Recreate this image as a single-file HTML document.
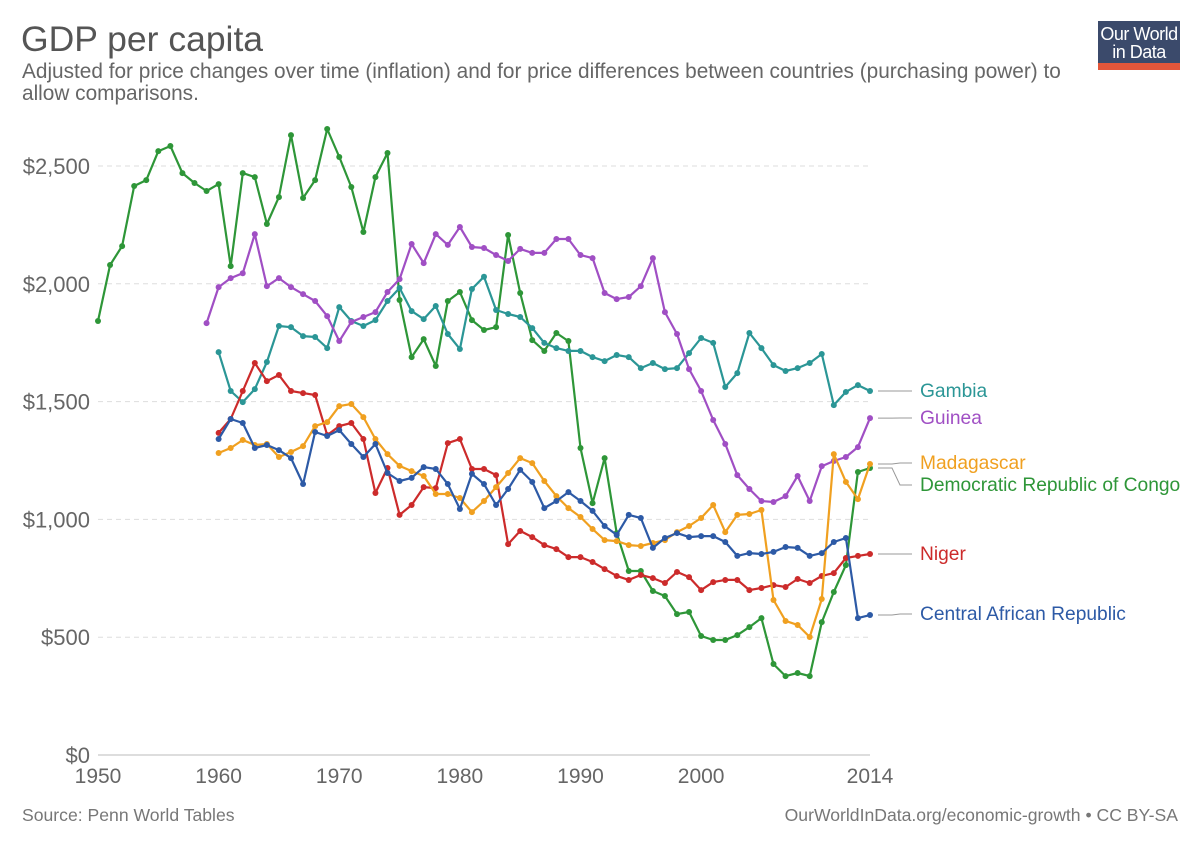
<!DOCTYPE html>
<html><head><meta charset="utf-8"><style>
body{margin:0;background:#fff;font-family:"Liberation Sans",sans-serif;}
#wrap{position:relative;width:1200px;height:847px;overflow:hidden;}
</style></head><body>
<div id="wrap">
<svg id="chart" width="1200" height="847">
<text x="21" y="51" font-size="35.5" fill="#555">GDP per capita</text>
<text x="22" y="78" font-size="20.8" fill="#666">Adjusted for price changes over time (inflation) and for price differences between countries (purchasing power) to</text>
<text x="22" y="100" font-size="20.8" fill="#666">allow comparisons.</text>
<g>
<rect x="1098" y="21" width="82" height="49" fill="#3b4a6b"/>
<rect x="1098" y="63" width="82" height="7" fill="#e3563a"/>
<text x="1139" y="40" font-size="18" fill="#fff" text-anchor="middle" letter-spacing="-0.5">Our World</text>
<text x="1139" y="58" font-size="18" fill="#fff" text-anchor="middle" letter-spacing="-0.5">in Data</text>
</g>
<g id="grid"></g><g id="series"></g><g id="labels"></g>
<text x="22" y="821" font-size="17.6" fill="#777">Source: Penn World Tables</text>
<text x="1178" y="821" font-size="17.6" fill="#777" text-anchor="end">OurWorldInData.org/economic-growth • CC BY-SA</text>
</svg>
</div>
<script>
const yTicks=[0,500,1000,1500,2000,2500];
const xTicks=[1950,1960,1970,1980,1990,2000,2014];
const drcStart=1950;
const drc=[1842,2080,2160,2415,2440,2563,2585,2470,2428,2394,2423,2075,2470,2453,2254,2368,2631,2364,2440,2657,2538,2411,2220,2453,2555,1931,1689,1765,1651,1927,1965,1846,1804,1816,2207,1961,1761,1715,1791,1757,1303,1069,1260,942,781,781,696,675,598,607,505,488,488,509,543,581,386,335,348,335,564,692,806,1201,1218];
const gambiaStart=1960;
const gambia=[1710,1545,1498,1553,1668,1821,1816,1778,1774,1727,1901,1842,1821,1846,1927,1982,1884,1850,1906,1787,1723,1978,2030,1889,1872,1859,1812,1749,1727,1715,1715,1689,1672,1698,1689,1642,1664,1638,1642,1706,1770,1749,1562,1621,1791,1727,1655,1630,1642,1664,1702,1485,1541,1570,1545];
const guineaStart=1959;
const guinea=[1833,1986,2024,2045,2211,1990,2024,1986,1956,1927,1863,1757,1838,1859,1880,1965,2020,2169,2088,2211,2165,2241,2156,2152,2122,2097,2148,2131,2131,2190,2190,2122,2109,1961,1935,1944,1990,2109,1880,1787,1638,1545,1422,1320,1188,1129,1078,1074,1099,1184,1078,1226,1248,1265,1307,1430];
const madaStart=1960;
const madagascar=[1282,1303,1337,1316,1320,1265,1286,1311,1396,1413,1481,1490,1434,1341,1277,1227,1205,1184,1108,1108,1091,1031,1078,1137,1197,1260,1239,1163,1099,1048,1010,959,912,908,891,887,900,912,946,972,1006,1061,946,1019,1023,1040,658,569,552,501,662,1277,1159,1086,1235];
const nigerStart=1960;
const niger=[1367,1426,1545,1664,1587,1613,1545,1536,1528,1358,1396,1409,1341,1112,1218,1019,1061,1137,1133,1324,1341,1214,1214,1188,895,951,925,891,874,840,840,819,789,760,743,764,751,730,777,755,700,734,743,743,700,709,721,713,747,730,760,772,836,845,853];
const carStart=1960;
const car=[1341,1426,1409,1303,1316,1294,1260,1150,1371,1354,1379,1320,1265,1320,1197,1163,1176,1222,1214,1150,1044,1193,1150,1061,1129,1210,1159,1048,1078,1116,1078,1036,972,934,1019,1006,879,921,942,925,929,929,904,845,857,853,862,883,879,845,857,904,921,581,594];
const seriesNames=["Gambia","Guinea","Madagascar","Democratic Republic of Congo","Niger","Central African Republic"];
const labelYs=[391,418,463,485,554,614];

const X0=98,X1=870,Y0=755,Y1=166;
const xs=yr=>X0+(yr-1950)*(X1-X0)/64;
const ys=v=>Y0-v*(Y0-Y1)/2500;
const NS="http://www.w3.org/2000/svg";
function mk(tag,attrs,parent){const e=document.createElementNS(NS,tag);for(const k in attrs)e.setAttribute(k,attrs[k]);parent.appendChild(e);return e;}
const grid=document.getElementById('grid');
yTicks.forEach(v=>{
  const l=mk('line',{x1:X0,x2:X1,y1:ys(v),y2:ys(v),stroke:v===0?'#bbb':'#ddd','stroke-dasharray':v===0?'':'5,4','stroke-width':1},grid);
  
  
  const t=mk('text',{x:90,y:ys(v)+8,'font-size':22,fill:'#666','text-anchor':'end'},grid);
  t.textContent='$'+v.toLocaleString('en-US');
  
  
});
xTicks.forEach(yr=>{
  const t=mk('text',{x:xs(yr),y:783,'font-size':21,fill:'#666','text-anchor':'middle'},grid);
  t.textContent=yr;
  
  
});
const sg=document.getElementById('series');
function draw(data,start,color,name){
  const g=mk('g',{},sg);
  
  
  const pts=data.map((v,i)=>xs(start+i).toFixed(1)+','+ys(v).toFixed(1)).join(' ');
  mk('polyline',{points:pts,fill:'none',stroke:color,'stroke-width':2.2,'stroke-linejoin':'round'},g);
  data.forEach((v,i)=>{
    const c=mk('circle',{cx:xs(start+i),cy:ys(v),r:3,fill:color},g);
    
    
  });
}
const colors=['#2b9696','#a04fc4','#f0a020','#2e9638','#cc2b2b','#2d5aa6'];
draw(drc,drcStart,colors[3],'series-drc');
draw(gambia,gambiaStart,colors[0],'series-gambia');
draw(guinea,guineaStart,colors[1],'series-guinea');
draw(niger,nigerStart,colors[4],'series-niger');
draw(madagascar,madaStart,colors[2],'series-madagascar');
draw(car,carStart,colors[5],'series-car');
const lg=document.getElementById('labels');
const lastVals=[gambia[gambia.length-1],guinea[guinea.length-1],madagascar[madagascar.length-1],drc[drc.length-1],niger[niger.length-1],car[car.length-1]];
seriesNames.forEach((n,i)=>{
  const ly=labelYs[i];
  const p=mk('polyline',{points:`${X1+8},${ys(lastVals[i])} ${X1+22},${ys(lastVals[i])} ${X1+30},${ly} ${X1+42},${ly}`,fill:'none',stroke:'#999','stroke-width':1},lg);
  
  
  const t=mk('text',{x:920,y:ly+6,'font-size':19.2,fill:colors[i]},lg);
  t.textContent=n;
  
  
});
</script>
</body></html>
